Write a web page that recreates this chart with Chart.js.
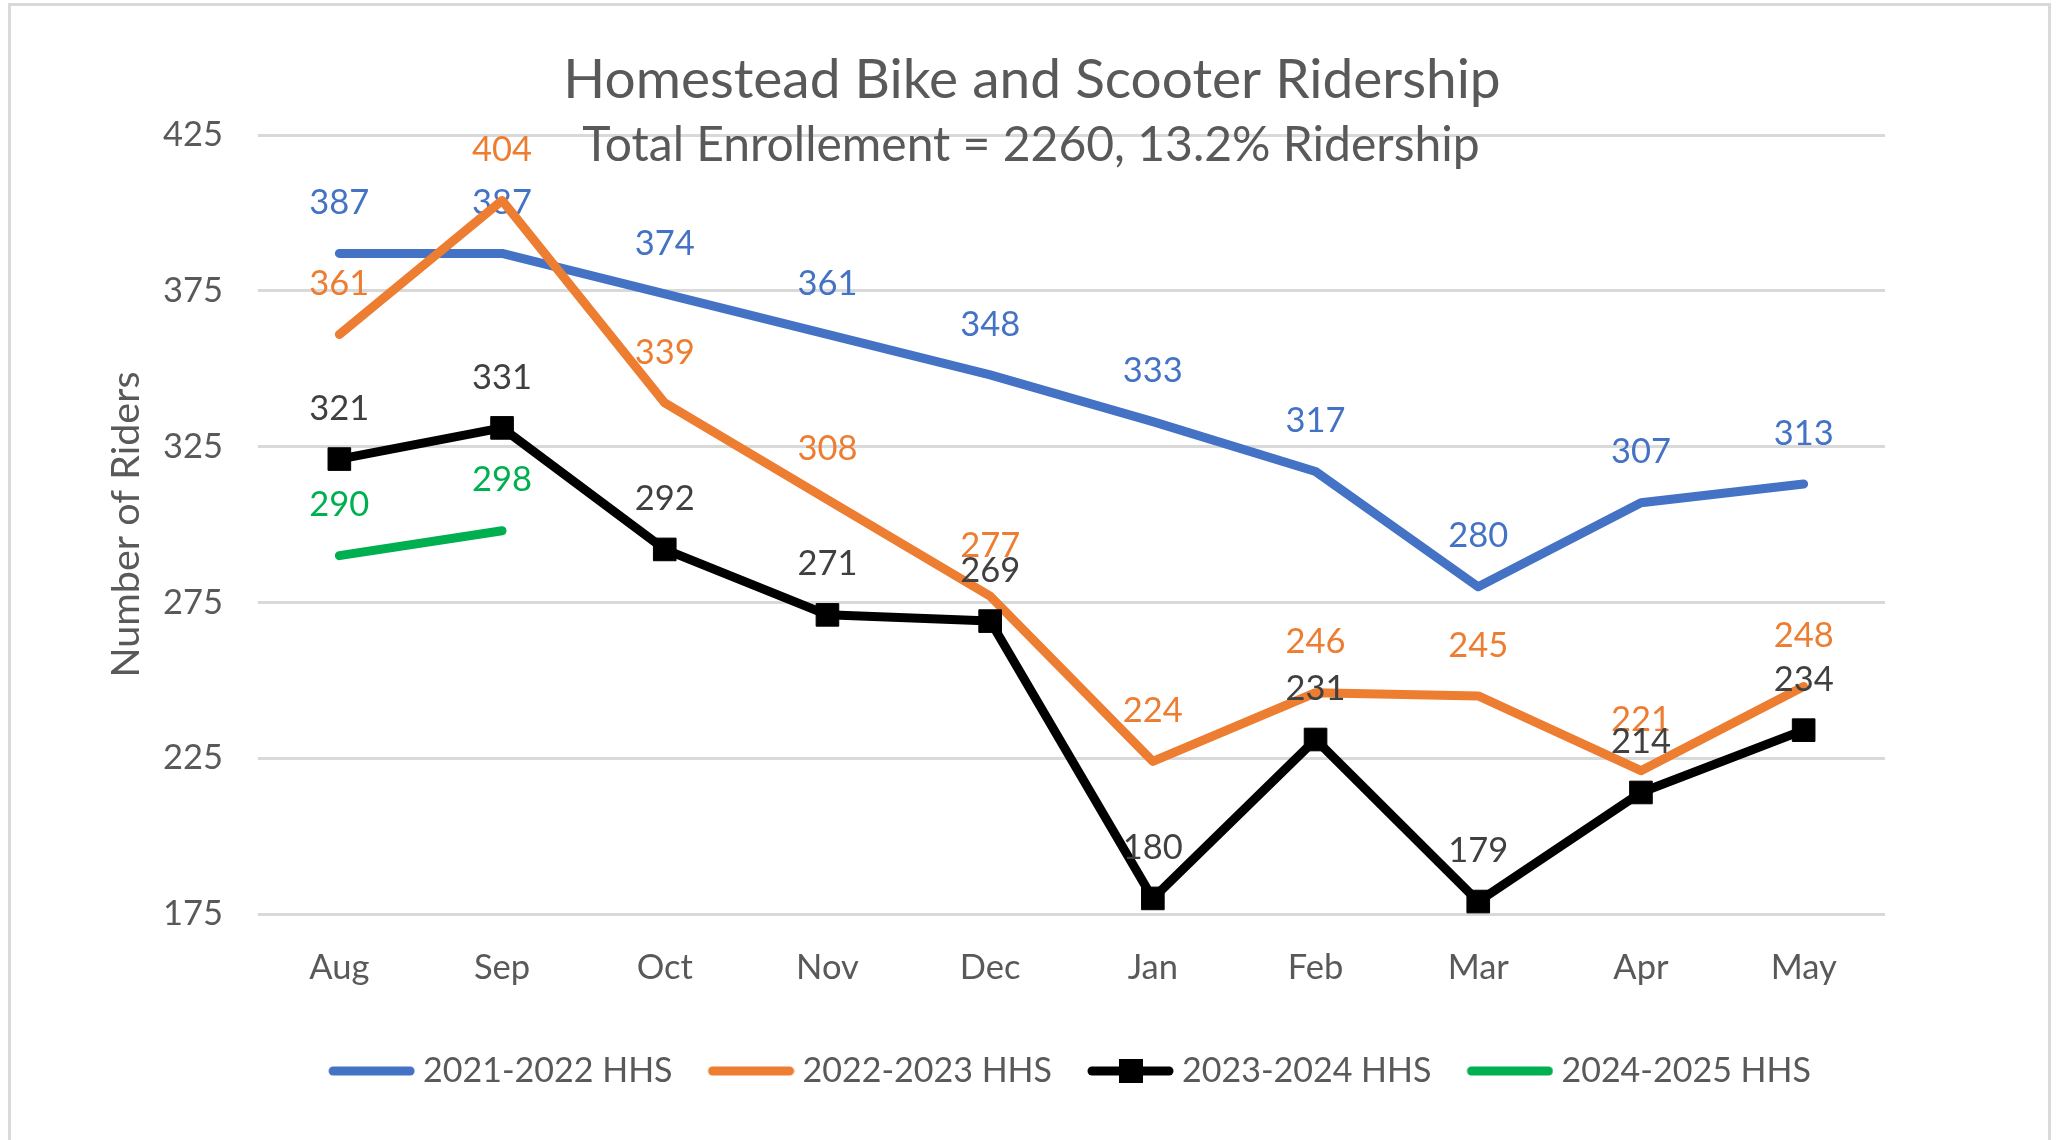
<!DOCTYPE html>
<html lang="en">
<head>
<meta charset="utf-8">
<title>Homestead Bike and Scooter Ridership</title>
<script src="https://cdn.jsdelivr.net/npm/chart.js@4.4.1/dist/chart.umd.min.js"></script>
<style>
  html, body { margin: 0; padding: 0; background: #ffffff; width: 2060px; height: 1140px; overflow: hidden; }
  #marco { position: absolute; left: 8px; top: 3px; width: 2037px; height: 1160px; border: 3px solid #d9d9d9; }
  #grafica { position: absolute; left: 0; top: 0; }
</style>
</head>
<body>
<div id="marco"></div>
<canvas id="grafica" width="2060" height="1140"></canvas>
<script>
// Datos
const months = ['Aug', 'Sep', 'Oct', 'Nov', 'Dec', 'Jan', 'Feb', 'Mar', 'Apr', 'May'];
const riders2122 = [387, 387, 374, 361, 348, 333, 317, 280, 307, 313];
const riders2223 = [361, 404, 339, 308, 277, 224, 246, 245, 221, 248];
const riders2324 = [321, 331, 292, 271, 269, 180, 231, 179, 214, 234];
const riders2425 = [290, 298, null, null, null, null, null, null, null, null];
const seriesNames = ['2021-2022 HHS', '2022-2023 HHS', '2023-2024 HHS', '2024-2025 HHS'];
const yAxisTicks = [175, 225, 275, 325, 375, 425];

const titleText = 'Homestead Bike and Scooter Ridership';
const subtitleText = 'Total Enrollement = 2260, 13.2% Ridership';

const lineColors = ['#4472C4', '#ED7D31', '#000000', '#00B050'];
const labelColors = ['#4472C4', '#ED7D31', '#404040', '#00B050'];
const textColor = '#595959';
const fontFamily = 'Lato, "Open Sans", sans-serif';

// Icono de la leyenda: una linea corta, con cuadro para la serie con marcadores
function legendIcon(color, withMarker) {
    const c = document.createElement('canvas');
    c.width = 92;
    c.height = 26;
    const g = c.getContext('2d');
    g.strokeStyle = color;
    g.lineWidth = 9;
    g.lineCap = 'round';
    g.beginPath();
    g.moveTo(10, 13);
    g.lineTo(87, 13);
    g.stroke();
    if (withMarker) {
        g.fillStyle = color;
        g.fillRect(37, 1, 24, 24);
    }
    return c;
}

// Titulo y subtitulo (el subtitulo se monta sobre la primera linea de la rejilla)
const titlesPlugin = {
    id: 'titles',
    afterDraw(chart) {
        const ctx = chart.ctx;
        ctx.save();
        ctx.fillStyle = textColor;
        ctx.textAlign = 'center';
        ctx.textBaseline = 'alphabetic';
        ctx.font = '55px ' + fontFamily;
        ctx.fillText(titleText, 1032, 97.5);
        ctx.font = '48px ' + fontFamily;
        ctx.fillText(subtitleText, 1031, 160.5);
        ctx.restore();
    }
};

// Etiquetas de valor encima de cada punto
const valueLabels = {
    id: 'valueLabels',
    afterDatasetDraw(chart, args) {
        const ctx = chart.ctx;
        const values = chart.data.datasets[args.index].data;
        ctx.save();
        ctx.font = '34.5px ' + fontFamily;
        ctx.fillStyle = labelColors[args.index];
        ctx.textAlign = 'center';
        ctx.textBaseline = 'middle';
        args.meta.data.forEach((pt, i) => {
            if (values[i] === null) return;
            ctx.fillText(String(values[i]), pt.x, pt.y - 50.5);
        });
        ctx.restore();
    }
};

function makeSeries(i, values, order) {
    return {
        label: seriesNames[i],
        data: values,
        borderColor: lineColors[i],
        backgroundColor: lineColors[i],
        borderWidth: 9,
        borderCapStyle: 'round',
        borderJoinStyle: 'round',
        pointRadius: 0,
        pointHoverRadius: 0,
        tension: 0,
        order: order
    };
}

const blackSeries = makeSeries(2, riders2324, 2);
blackSeries.pointStyle = 'rect';
blackSeries.pointRadius = 16;
blackSeries.pointBorderWidth = 1;

const ctx = document.getElementById('grafica').getContext('2d');

new Chart(ctx, {
    type: 'line',
    data: {
        labels: months,
        datasets: [
            makeSeries(0, riders2122, 4),
            makeSeries(1, riders2223, 3),
            blackSeries,
            makeSeries(3, riders2425, 1)
        ]
    },
    options: {
        responsive: false,
        animation: false,
        events: [],
        layout: { padding: { top: 135, right: 175, bottom: 42, left: 0 } },
        scales: {
            x: {
                offset: true,
                grid: { display: false, drawTicks: false },
                border: { display: false },
                ticks: { color: textColor, font: { family: fontFamily, size: 34.5 }, padding: 33 },
                afterFit: (s) => { s.height = 101; }
            },
            y: {
                min: 175,
                max: 425,
                afterBuildTicks: (s) => { s.ticks = yAxisTicks.map(v => ({ value: v })); },
                grid: { color: '#d9d9d9', lineWidth: 3, drawTicks: false },
                border: { display: false },
                ticks: { color: textColor, font: { family: fontFamily, size: 34.5 }, padding: 35 },
                title: {
                    display: true,
                    text: 'Number of Riders',
                    color: textColor,
                    font: { family: fontFamily, size: 39.5 },
                    padding: { top: 103, bottom: 0 }
                },
                afterFit: (s) => { s.width = 258; }
            }
        },
        plugins: {
            tooltip: { enabled: false },
            legend: {
                position: 'bottom',
                fullSize: false,
                labels: {
                    usePointStyle: true,
                    pointStyleWidth: 74,
                    padding: 39,
                    color: textColor,
                    font: { family: fontFamily, size: 34 },
                    sort: (a, b) => a.datasetIndex - b.datasetIndex,
                    generateLabels(chart) {
                        const items = Chart.defaults.plugins.legend.labels.generateLabels(chart);
                        items.forEach(it => {
                            it.pointStyle = legendIcon(lineColors[it.datasetIndex], it.datasetIndex === 2);
                        });
                        return items;
                    }
                }
            }
        }
    },
    plugins: [valueLabels, titlesPlugin]
});
</script>
</body>
</html>
